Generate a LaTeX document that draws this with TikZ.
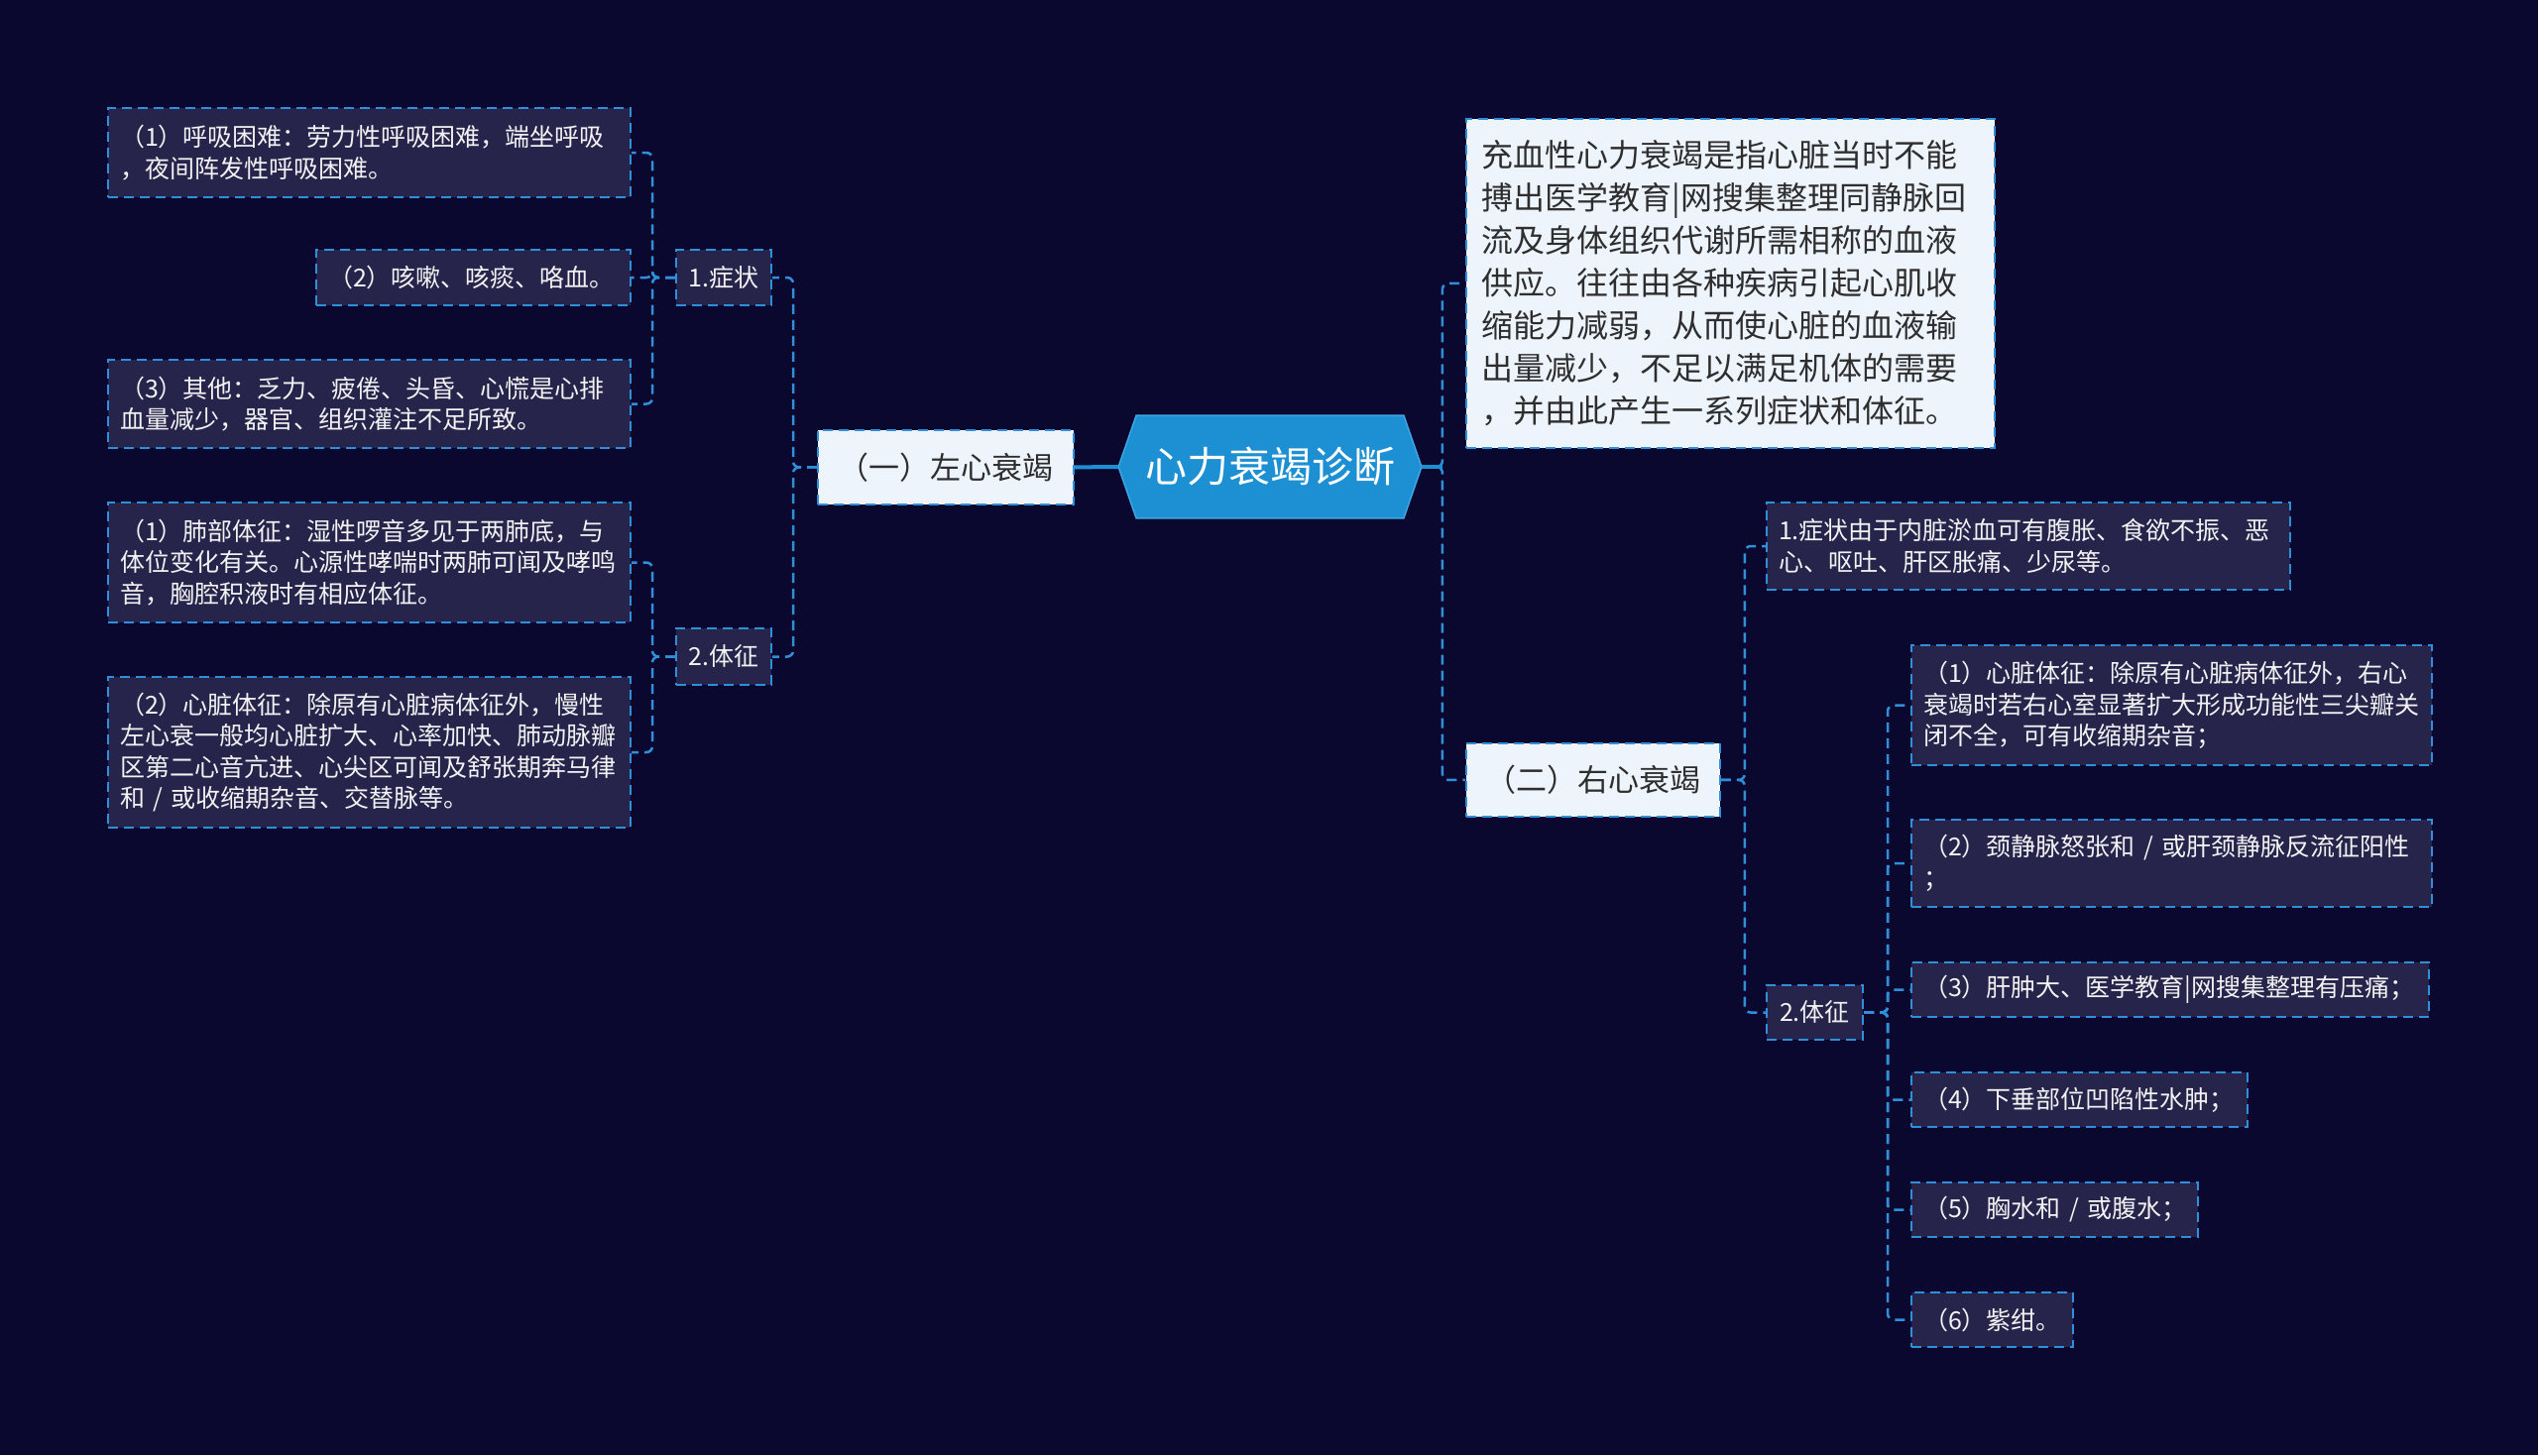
\documentclass[tikz,border=0pt]{standalone}
\usepackage{fontspec}
\setmainfont{Noto Sans CJK SC}
\usetikzlibrary{backgrounds}
\definecolor{bgcol}{HTML}{0B0830}
\definecolor{darkfill}{HTML}{27244C}
\definecolor{lightfill}{HTML}{EEF4FC}
\definecolor{lineblue}{HTML}{2F8FD8}
\definecolor{hexfill}{HTML}{1D8FD3}
\definecolor{hexborder}{HTML}{3FA6E6}
\definecolor{darktext}{HTML}{2E2E2E}
\tikzset{
  darkbox/.style={draw=lineblue, line width=1pt, dash pattern=on 5pt off 3pt,
    fill=darkfill, text=white!95!black, anchor=north west, inner xsep=6pt, inner ysep=0pt,
    align=left, font=\fontsize{12.5pt}{15.75pt}\selectfont},
  tagbox/.style={darkbox, align=center},
  lightbox/.style={draw=lineblue, line width=0.9pt, dash pattern=on 5pt off 3pt,
    fill=lightfill, text=darktext, anchor=north west, inner xsep=8pt, inner ysep=0pt,
    align=left},
  conn/.style={draw=lineblue, line width=1.25pt, dash pattern=on 5pt off 3pt, rounded corners=3pt},
  mainline/.style={draw=hexfill, line width=2pt},
}
\begin{document}
\begin{tikzpicture}[x=0.5pt, y=-0.5pt]
\useasboundingbox (0,0) rectangle (2560,1468);

% central
\node[text=white, font=\fontsize{21pt}{25pt}\selectfont, minimum width=152.5pt, minimum height=51.5pt, inner sep=0pt] (hex) at (1281,471) {心力衰竭诊断};

% left branch
\node[lightbox, font=\fontsize{15.5pt}{19pt}\selectfont, text width=113pt, minimum height=37.5pt, align=center] (left1) at (824,433) {（一）左心衰竭};
\node[tagbox, text width=36pt, minimum height=28pt] (symL) at (681,251) {1.症状};
\node[tagbox, text width=36pt, minimum height=28.5pt] (signL) at (681,633) {2.体征};

\node[darkbox, text width=251.5pt, minimum height=45pt] (la) at (108,108) {（1）呼吸困难：劳力性呼吸困难，端坐呼吸\\，夜间阵发性呼吸困难。};
\node[darkbox, text width=146.5pt, minimum height=28pt] (lb) at (318,251) {（2）咳嗽、咳痰、咯血。};
\node[darkbox, text width=251.5pt, minimum height=44.5pt] (lc) at (108,362) {（3）其他：乏力、疲倦、头昏、心慌是心排\\血量减少，器官、组织灌注不足所致。};
\node[darkbox, text width=251.5pt, minimum height=60.5pt] (ld) at (108,506) {（1）肺部体征：湿性啰音多见于两肺底，与\\体位变化有关。心源性哮喘时两肺可闻及哮鸣\\音，胸腔积液时有相应体征。};
\node[darkbox, text width=251.5pt, minimum height=76pt] (le) at (108,682) {（2）心脏体征：除原有心脏病体征外，慢性\\左心衰一般均心脏扩大、心率加快、肺动脉瓣\\区第二心音亢进、心尖区可闻及舒张期奔马律\\和~/~或收缩期杂音、交替脉等。};

% right branch
\node[lightbox, font=\fontsize{16pt}{21.5pt}\selectfont, text width=250.5pt, minimum height=166pt] (def) at (1478,119) {充血性心力衰竭是指心脏当时不能\\搏出医学教育|网搜集整理同静脉回\\流及身体组织代谢所需相称的血液\\供应。往往由各种疾病引起心肌收\\缩能力减弱，从而使心脏的血液输\\出量减少，不足以满足机体的需要\\，并由此产生一系列症状和体征。};
\node[lightbox, font=\fontsize{15.5pt}{19pt}\selectfont, text width=112pt, minimum height=37pt, align=center] (right1) at (1478,749) {（二）右心衰竭};
\node[darkbox, text width=252pt, minimum height=44pt] (ra) at (1781,506) {1.症状由于内脏淤血可有腹胀、食欲不振、恶\\心、呕吐、肝区胀痛、少尿等。};
\node[tagbox, text width=36.5pt, minimum height=27.5pt] (signR) at (1781,993) {2.体征};

\node[darkbox, text width=250.5pt, minimum height=60.5pt] (rb) at (1927,650) {（1）心脏体征：除原有心脏病体征外，右心\\衰竭时若右心室显著扩大形成功能性三尖瓣关\\闭不全，可有收缩期杂音；};
\node[darkbox, text width=250.5pt, minimum height=44pt] (rc) at (1927,826) {（2）颈静脉怒张和~/~或肝颈静脉反流征阳性\\；};
\node[darkbox, text width=249pt, minimum height=27.5pt] (rd) at (1927,970) {（3）肝肿大、医学教育|网搜集整理有压痛；};
\node[darkbox, text width=157.5pt, minimum height=27.5pt] (re) at (1927,1081) {（4）下垂部位凹陷性水肿；};
\node[darkbox, text width=132.5pt, minimum height=27.5pt] (rf) at (1927,1192) {\mbox{（5）胸水和~/~或腹水；}};
\node[darkbox, text width=69.5pt, minimum height=27.5pt] (rg) at (1927,1303) {（6）紫绀。};

% connectors left
\draw[mainline] (hex.west) -- (left1.east);
\draw[conn] (left1.west) -- ++(-12pt,0) |- (symL.east);
\draw[conn] (left1.west) -- ++(-12pt,0) |- (signL.east);
\draw[conn] (symL.west) -- ++(-11.5pt,0) |- (la.east);
\draw[conn] (symL.west) -- ++(-11.5pt,0) |- (lb.east);
\draw[conn] (symL.west) -- ++(-11.5pt,0) |- (lc.east);
\draw[conn] (signL.west) -- ++(-11.5pt,0) |- (ld.east);
\draw[conn] (signL.west) -- ++(-11.5pt,0) |- (le.east);

% connectors right
\draw[conn] (hex.east) -- ++(10.5pt,0) |- (def.west);
\draw[conn] (hex.east) -- ++(10.5pt,0) |- (right1.west);
\draw[mainline] (hex.east) -- ++(10.5pt,0);
\draw[conn] (right1.east) -- ++(12pt,0) |- (ra.west);
\draw[conn] (right1.east) -- ++(12pt,0) |- (signR.west);
\foreach \c in {rb,rc,rd,re,rf,rg}{
  \draw[conn] (signR.east) -- ++(12pt,0) |- (\c.west);
}

\begin{scope}[on background layer]
\fill[bgcol] (0,0) rectangle (2560,1468);
\filldraw[fill=hexfill, draw=hexborder, line width=0.75pt] (hex.west) -- ([xshift=9pt]hex.north west) -- ([xshift=-9pt]hex.north east) -- (hex.east) -- ([xshift=-9pt]hex.south east) -- ([xshift=9pt]hex.south west) -- cycle;
\end{scope}
\end{tikzpicture}
\end{document}
